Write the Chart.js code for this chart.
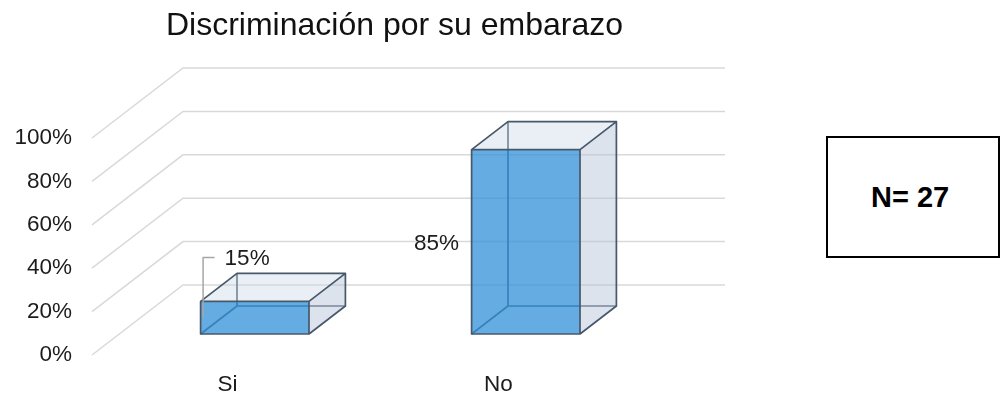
<!DOCTYPE html>
<html lang="es">
<head>
<meta charset="utf-8">
<title>Discriminación por su embarazo</title>
<script src="https://cdn.jsdelivr.net/npm/chart.js@4.4.1/dist/chart.umd.min.js"></script>
<style>
  html, body { margin: 0; padding: 0; background: #fff; }
  #wrap { position: absolute; left: 0; top: 0; width: 789px; height: 397px; }
  #nbox {
    position: absolute; left: 826px; top: 136px; width: 174px; height: 122px;
    box-sizing: border-box; border: 2px solid #000; color: #000;
    font: bold 29px "Liberation Sans", Arial, sans-serif;
    display: flex; align-items: center; padding-left: 43px;
  }
</style>
</head>
<body>
<div id="wrap"><canvas id="c"></canvas></div>
<div id="nbox">N= 27</div>
<script>
// Chart data
const categories = ['Si', 'No'];
const percentages = [15, 85];
const yTickValues = [0, 20, 40, 60, 80, 100];

const FONT = '"Liberation Sans", Arial, sans-serif';
const TEXT = '#1c1c1c';

// 3D look: offset from the front plane to the back wall, and where each box sits in that depth
const WALL = { dx: 91, dy: -70 };
const BOX_DEPTH = [0.3, 0.7];

function fillPoly(ctx, pts, color) {
  ctx.beginPath();
  ctx.moveTo(pts[0][0], pts[0][1]);
  for (let k = 1; k < pts.length; k++) ctx.lineTo(pts[k][0], pts[k][1]);
  ctx.closePath();
  ctx.fillStyle = color;
  ctx.fill();
}

const box3d = {
  id: 'box3d',
  beforeDatasetsDraw(chart, args, opts) {
    const { ctx, chartArea: a, scales: { y } } = chart;
    ctx.save();

    // floor diagonals and back-wall gridlines
    ctx.strokeStyle = opts.gridColor;
    ctx.lineWidth = 1.5;
    y.ticks.forEach(t => {
      const py = y.getPixelForValue(t.value);
      ctx.beginPath();
      ctx.moveTo(a.left, py);
      ctx.lineTo(a.left + WALL.dx, py + WALL.dy);
      ctx.lineTo(a.right + WALL.dx, py + WALL.dy);
      ctx.stroke();
    });

    const fx = WALL.dx * BOX_DEPTH[0], fy = WALL.dy * BOX_DEPTH[0];
    const ddx = WALL.dx * (BOX_DEPTH[1] - BOX_DEPTH[0]);
    const ddy = WALL.dy * (BOX_DEPTH[1] - BOX_DEPTH[0]);
    const meta = chart.getDatasetMeta(0);
    const values = chart.data.datasets[0].data;

    meta.data.forEach((bar, i) => {
      const p = bar.getProps(['x', 'y', 'base', 'width'], true);
      const L = p.x - p.width / 2 + fx, R = p.x + p.width / 2 + fx;
      const T = p.y + fy, B = p.base + fy;

      ctx.lineJoin = 'round';
      ctx.strokeStyle = opts.edgeColor;
      ctx.lineWidth = 1.7;

      // hidden edges, seen through the translucent faces
      ctx.beginPath();
      ctx.moveTo(L, B); ctx.lineTo(L + ddx, B + ddy); ctx.lineTo(R + ddx, B + ddy);
      ctx.moveTo(L + ddx, B + ddy); ctx.lineTo(L + ddx, T + ddy);
      ctx.stroke();

      // faces
      fillPoly(ctx, [[L, T], [L + ddx, T + ddy], [R + ddx, T + ddy], [R, T]], opts.topFill);
      fillPoly(ctx, [[R, T], [R + ddx, T + ddy], [R + ddx, B + ddy], [R, B]], opts.sideFill);
      fillPoly(ctx, [[L, T], [R, T], [R, B], [L, B]], opts.frontFill);

      // visible edges
      ctx.beginPath();
      ctx.rect(L, T, R - L, B - T);
      ctx.moveTo(L, T); ctx.lineTo(L + ddx, T + ddy); ctx.lineTo(R + ddx, T + ddy); ctx.lineTo(R, T);
      ctx.moveTo(R + ddx, T + ddy); ctx.lineTo(R + ddx, B + ddy); ctx.lineTo(R, B);
      ctx.stroke();

      // value label
      const lab = opts.labels[i];
      const txt = values[i] + '%';
      ctx.font = opts.labelFont;
      ctx.fillStyle = TEXT;
      ctx.textBaseline = 'middle';
      if (lab.mode === 'leader') {
        ctx.strokeStyle = opts.leaderColor;
        ctx.lineWidth = 1.5;
        ctx.beginPath();
        ctx.moveTo(L + lab.lineInset, T + lab.lineStart);
        ctx.lineTo(L + lab.lineInset, T + lab.rise);
        ctx.lineTo(L + lab.lineEnd, T + lab.rise);
        ctx.stroke();
        ctx.textAlign = 'left';
        ctx.fillText(txt, L + lab.textDx, T + lab.rise + 1);
      } else {
        ctx.textAlign = 'right';
        ctx.fillText(txt, L - lab.gap, (T + B) / 2 + lab.dy);
      }
    });

    ctx.restore();
    return false;
  }
};

new Chart(document.getElementById('c'), {
  type: 'bar',
  data: {
    labels: categories,
    datasets: [{ data: percentages, backgroundColor: '#4a9ad8' }]
  },
  plugins: [box3d],
  options: {
    responsive: true,
    maintainAspectRatio: false,
    animation: false,
    events: [],
    layout: { padding: 0 },
    datasets: { bar: { barPercentage: 0.4, categoryPercentage: 1 } },
    scales: {
      x: {
        grid: { display: false, drawTicks: false },
        border: { display: false },
        ticks: { color: TEXT, font: { family: FONT, size: 22.5 }, padding: 16 },
        afterFit: s => { s.height = 42; }
      },
      y: {
        min: 0, max: 100,
        grid: { display: false, drawTicks: false },
        border: { display: false },
        afterBuildTicks: s => { s.ticks = yTickValues.map(v => ({ value: v })); },
        ticks: { color: TEXT, font: { family: FONT, size: 22.5 }, padding: 20, callback: v => v + '%' },
        afterFit: s => { s.width = 92; }
      },
      side: {
        position: 'right',
        grid: { display: false },
        border: { display: false },
        ticks: { display: false },
        afterFit: s => { s.width = 155; }
      }
    },
    plugins: {
      legend: { display: false },
      tooltip: { enabled: false },
      title: {
        display: true,
        text: 'Discriminación por su embarazo',
        color: '#111',
        font: { family: FONT, size: 32, weight: 'normal', lineHeight: 1.2 },
        padding: { top: 7, bottom: 92.6 }
      },
      box3d: {
        gridColor: '#d9d9d9',
        edgeColor: '#47586b',
        leaderColor: '#a6a6a6',
        topFill: 'rgba(200,215,230,0.4)',
        sideFill: 'rgba(178,194,214,0.45)',
        frontFill: 'rgba(48,144,216,0.75)',
        labelFont: '22.5px ' + FONT,
        labels: [
          { mode: 'leader', lineInset: 2.5, lineStart: 15.5, rise: -44, lineEnd: 14, textDx: 24 },
          { mode: 'left', gap: 12.5, dy: 2 }
        ]
      }
    }
  }
});
</script>
</body>
</html>
